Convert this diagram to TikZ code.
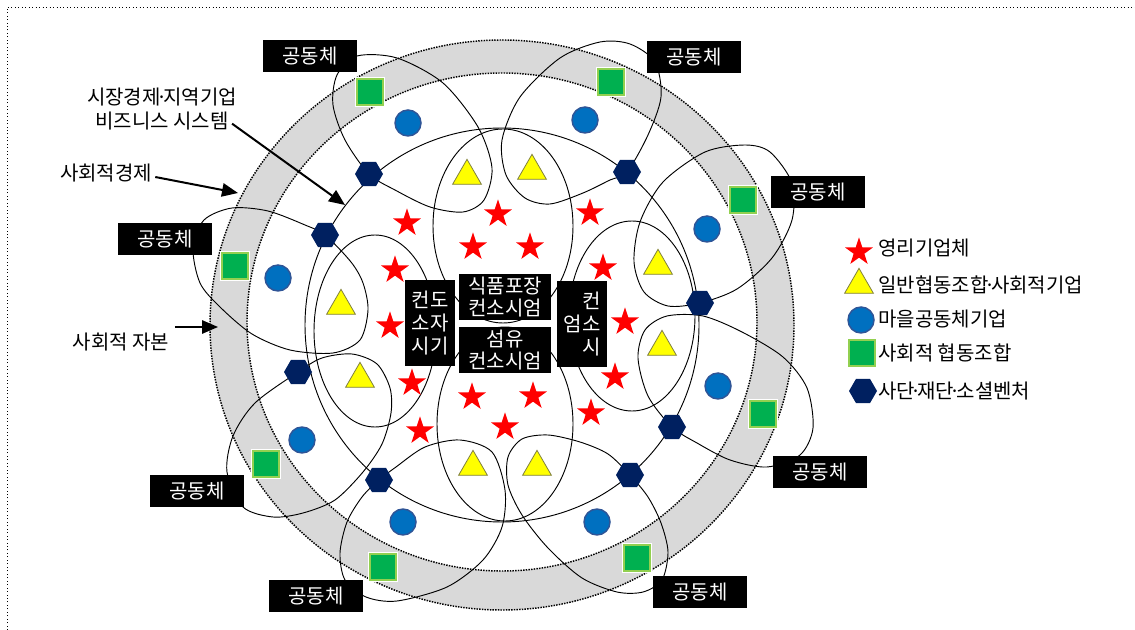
\documentclass[tikz,border=0pt]{standalone}
\usepackage{fontspec}
\newfontfamily\kr{Noto Sans CJK KR}
\usetikzlibrary{arrows.meta,positioning,shapes.geometric}
\definecolor{ringgray}{HTML}{D9D9D9}
\definecolor{starred}{HTML}{FF0000}
\definecolor{triyellow}{HTML}{FFFF00}
\definecolor{triedge}{HTML}{7F7F3F}
\definecolor{dotblue}{HTML}{0070C0}
\definecolor{dotedge}{HTML}{2F5597}
\definecolor{sqgreen}{HTML}{00B050}
\definecolor{sqedge}{HTML}{92D050}
\definecolor{hexnavy}{HTML}{002060}
\newcommand\kdot{\kern-.22em·\kern-.22em}

\begin{document}
\begin{tikzpicture}[
  x=0.75pt, y=-0.75pt,
  every node/.style={font=\kr},
  loopline/.style={draw=black, line width=0.7pt},
  ringline/.style={draw=black, line width=1.1pt, dash pattern=on 1.1pt off 0.9pt},
  firm/.style={star, star points=5, star point ratio=2.6, fill=starred,
    minimum size=22pt, inner sep=0pt},
  coop/.style={regular polygon, regular polygon sides=3, fill=triyellow,
    draw=triedge, line width=0.6pt, minimum size=25pt, inner sep=0pt},
  village/.style={circle, fill=dotblue, draw=dotedge, line width=1.1pt,
    minimum size=19.5pt, inner sep=0pt},
  socoop/.style={rectangle, fill=sqgreen, draw=sqedge, line width=2pt,
    minimum size=19.5pt, inner sep=0pt, preaction={draw=white, line width=3.4pt}},
  venture/.style={regular polygon, regular polygon sides=6, fill=hexnavy,
    minimum size=21pt, inner sep=0pt},
  commbox/.style={fill=black, text=white, minimum width=71pt, minimum height=24pt,
    inner sep=0pt, font=\kr\fontsize{15}{17}\selectfont},
  consbox/.style={fill=black, text=white, inner sep=0pt, align=center,
    font=\kr\fontsize{15}{16}\selectfont},
  note/.style={align=center, inner sep=0pt, font=\kr\fontsize{15}{18.5}\selectfont},
  lgtext/.style={anchor=west, inner sep=0pt, font=\kr\fontsize{15}{16}\selectfont},
  arr/.style={-{Triangle[length=12pt, width=10pt]}, line width=1.5pt},
]
  \useasboundingbox (0,0) rectangle (1135,630);
  \draw[dotted, line width=0.6pt] (7,630) -- (7,7) -- (1135,7);

  % social capital ring
  \fill[ringgray, even odd rule] (502,325) ellipse [x radius=292, y radius=285]
    (502,322) ellipse [x radius=255, y radius=249];
  \draw[ringline] (502,325) ellipse [x radius=292, y radius=285];
  \draw[ringline] (502,322) ellipse [x radius=255, y radius=249];

  % market system circle and inner loops
  \draw[loopline] (502,325) circle [radius=197];
  \draw[loopline] (503,226) ellipse [x radius=70, y radius=97];
  \draw[loopline] (505,424) ellipse [x radius=68, y radius=97];
  \draw[loopline] (375,331) ellipse [x radius=61, y radius=96];
  \draw[loopline] (632,316) ellipse [x radius=63, y radius=95];

  % community petals
  \draw[loopline] plot[smooth cycle] coordinates {(369,174) (345,140) (333,105)
    (337,75) (357,56) (397,58) (443,83) (478,127) (492,168) (484,200) (463,212)
    (430,207) (395,190)};
  \draw[loopline] plot[smooth cycle] coordinates {(627,172) (648,135) (661,97)
    (655,62) (630,44) (600,42) (560,58) (520,97) (502,140) (506,175) (525,198)
    (550,204) (583,193) (610,180)};
  \draw[loopline] plot[smooth cycle] coordinates {(700,303) (737,289) (772,258)
    (792,220) (792,183) (770,152) (745,145) (705,152) (663,182) (640,222)
    (634,262) (644,292) (668,306)};
  \draw[loopline] plot[smooth cycle] coordinates {(672,427) (648,396) (638,358)
    (645,330) (667,316) (703,316) (742,332) (783,357) (807,388) (813,428)
    (800,455) (767,467) (730,460) (697,443)};
  \draw[loopline] plot[smooth cycle] coordinates {(630,475) (608,454) (580,442)
    (548,435) (522,439) (508,457) (508,485) (522,515) (548,548) (582,578)
    (617,592) (643,592) (662,580) (668,552) (661,523) (648,497)};
  \draw[loopline] plot[smooth cycle] coordinates {(379,480) (362,497) (347,522)
    (340,553) (345,580) (366,597) (397,601) (447,587) (483,560) (502,527)
    (505,490) (492,452) (460,440) (425,447) (396,467)};
  \draw[loopline] plot[smooth cycle] coordinates {(298,372) (322,358) (352,354)
    (377,364) (390,388) (391,413) (382,444) (363,472) (335,500) (303,513)
    (273,517) (243,507) (227,472) (233,436) (255,403)};
  \draw[loopline] plot[smooth cycle] coordinates {(325,235) (305,225) (268,211)
    (232,208) (204,220) (193,248) (200,283) (220,307) (252,334) (290,350)
    (333,353) (360,340) (368,310) (363,283) (351,262)};

  % members
  \foreach \x/\y [count=\i] in {407/223, 498/214, 590/213, 473/247, 530/247,
      395/270, 603/268, 390/326, 625/322, 412/383, 615/377, 472/397, 533/396,
      505/427, 591/413, 420/431}
    \node[firm] (firm\i) at (\x,\y) {};
  \foreach \x/\y [count=\i] in {467/176, 532/171, 658/266, 662/347, 537/467,
      473/467, 360/379, 341/306}
    \node[coop] (coop\i) at (\x,\y) {};
  \foreach \x/\y [count=\i] in {408/123, 585/120, 707/229, 718/386, 597/522,
      403/522, 302/440, 278/278}
    \node[village] (village\i) at (\x,\y) {};
  \foreach \x/\y [count=\i] in {370/92, 611/82, 743/200, 763/414, 637/558,
      383/567, 266/464, 235/266}
    \node[socoop] (socoop\i) at (\x,\y) {};
  \foreach \x/\y [count=\i] in {369/174, 325/235, 298/372, 379/480, 627/172,
      700/303, 672/427, 630/475}
    \node[venture] (venture\i) at (\x,\y) {};

  % community labels
  \foreach \x/\y [count=\i] in {310/56, 694/57, 818/192, 165/239, 820/472,
      197/491, 316/596, 700/592}
    \node[commbox] (comm\i) at (\x,\y) {공동체};

  % consortium boxes
  \node[consbox, minimum width=69pt, minimum height=34.5pt] (foodbox) at (505,297) {식품포장\\컨소시엄};
  \node[consbox, minimum width=69pt, minimum height=35pt, below=4.5pt of foodbox] (fiberbox) {섬유\\컨소시엄};
  \node[consbox, minimum width=37pt, minimum height=65pt,
    font=\kr\fontsize{15}{17}\selectfont] (potbox) at (430,323) {컨도\\소자\\시기};
  \node[consbox, minimum width=37pt, minimum height=65pt, align=right,
    font=\kr\fontsize{15}{17}\selectfont] (sidebox) at (582,324) {컨\\엄소\\시};

  % notes
  \node[note] (sysnote) at (162,109) {시장경제\kdot 지역기업\\비즈니스 시스템};
  \node[note] (econote) at (106,173) {사회적경제};
  \node[note] (capnote) at (121,342) {사회적 자본};
  \coordinate (systip) at (345,205);
  \coordinate (ecotip) at (238,193);
  \coordinate (captip) at (218,327);
  \draw[arr] ([shift={(-5,-7)}]sysnote.south east) -- (systip);
  \draw[arr] ([shift={(3,4)}]econote.east) -- (ecotip);
  \draw[arr] ([xshift=4pt]captip -| capnote.east) -- (captip);

  % legend
  \node[firm] (lgfirm) at (859,252) {};
  \node[coop] (lgcoop) at (859,285) {};
  \node[village] (lgvillage) at (861,320) {};
  \node[socoop] (lgsocoop) at (862,353) {};
  \node[venture] (lgventure) at (863,391) {};
  \node[lgtext] (lgfirmtxt) at (878,248) {영리기업체};
  \node[lgtext] (lgcooptxt) at (878,285) {일반협동조합\kdot 사회적기업};
  \node[lgtext] (lgvillagetxt) at (878,319) {마을공동체기업};
  \node[lgtext] (lgsocooptxt) at (878,353) {사회적 협동조합};
  \node[lgtext] (lgventuretxt) at (878,391) {사단\kdot 재단\kdot 소셜벤처};
\end{tikzpicture}
\end{document}
